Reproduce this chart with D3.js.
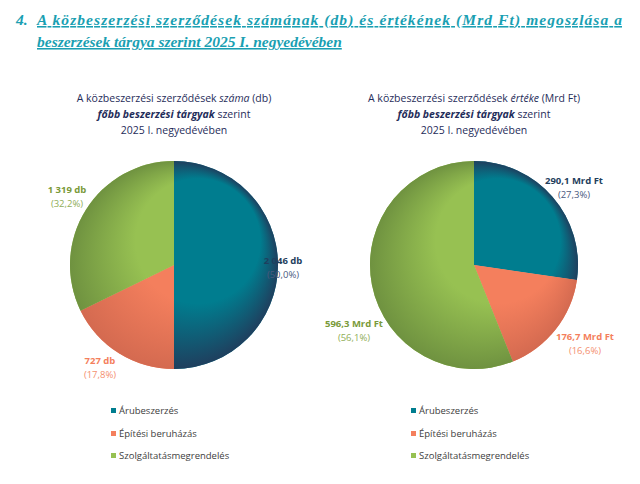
<!DOCTYPE html><html><head><meta charset="utf-8"><script src="https://cdn.jsdelivr.net/npm/d3@7"></script>
<style>body{margin:0;background:#fff}</style></head><body><svg id="c" width="640" height="484"></svg>
<script>
const categories=["Árubeszerzés","Építési beruházás","Szolgáltatásmegrendelés"];
const countValues=[2046,727,1319];
const countPct=["50,0%","17,8%","32,2%"];
const valueValues=[290.1,176.7,596.3];
const valuePct=["27,3%","16,6%","56,1%"];
const colors=["#007d8f","#f47f5d","#97c152"];
const darks=["#1f3f5e","#d46a50","#6f9240"];
const labelColors=["#1f3f5e","#f47f5d","#7a9a3a"];
const pctColors=["#4a5a80","#f4906f","#8fae58"];
const svg=d3.select("#c");
const defs=svg.append("defs");
colors.forEach((c,i)=>{[0,1].forEach(p=>{
 const g=defs.append("radialGradient").attr("id",`g${p}${i}`).attr("gradientUnits","userSpaceOnUse")
  .attr("cx",p?474:174).attr("cy",265).attr("r",104).attr("fx",(p?474:174)+60).attr("fy",265-60);
 g.append("stop").attr("offset","0%").attr("stop-color",c);
 g.append("stop").attr("offset","60%").attr("stop-color",c);
 g.append("stop").attr("offset","100%").attr("stop-color",darks[i]);
});});
// title
const tf="'Liberation Serif',serif";
const t=svg.append("g").attr("font-family",tf).attr("font-weight","bold").attr("font-style","italic").attr("font-size",15.5).attr("fill","#1a9fb2");
t.append("text").attr("x",16).attr("y",25).text("4.");
t.append("text").attr("x",37).attr("y",25).attr("textLength",585).attr("lengthAdjust","spacing").attr("text-decoration","underline").text("A közbeszerzési szerződések számának (db) és értékének (Mrd Ft) megoszlása a");
t.append("text").attr("x",37).attr("y",47).attr("text-decoration","underline").text("beszerzések tárgya szerint 2025 I. negyedévében");
function title(cx,it,unit){
 const g=svg.append("g").attr("font-family","'Open Sans',sans-serif").attr("font-size",10.5).attr("fill","#1f2d5a").attr("text-anchor","middle");
 const l1=g.append("text").attr("x",cx).attr("y",102);
 l1.append("tspan").text("A közbeszerzési szerződések ");
 l1.append("tspan").attr("font-style","italic").text(it);
 l1.append("tspan").text(" "+unit);
 const l2=g.append("text").attr("x",cx).attr("y",118);
 l2.append("tspan").attr("font-style","italic").attr("font-weight","bold").text("főbb beszerzési tárgyak");
 l2.append("tspan").text(" szerint");
 g.append("text").attr("x",cx).attr("y",134).text("2025 I. negyedévében");
}
title(174,"száma","(db)");title(474,"értéke","(Mrd Ft)");
function pie(p,cx,vals,labels,pcts,pos){
 const arcs=d3.pie().sort(null)(vals);
 const arc=d3.arc().innerRadius(0).outerRadius(104);
 const g=svg.append("g").attr("transform",`translate(${cx},265)`);
 g.selectAll("path").data(arcs).join("path").attr("d",arc).attr("fill",(d,i)=>colors[i]);
 g.selectAll("path.o").data(arcs).join("path").attr("class","o").attr("d",arc).attr("fill",(d,i)=>`url(#g${p}${i})`).attr("transform",`translate(${-cx},-265)`).attr("d",d=>d3.arc().innerRadius(0).outerRadius(104)(d)).attr("transform",null);
 const lg=svg.append("g").attr("font-family","'Open Sans',sans-serif").attr("font-size",9.5).attr("text-anchor","middle");
 arcs.forEach((d,i)=>{
  lg.append("text").attr("x",pos[i][0]).attr("y",pos[i][1]).attr("font-weight","bold").attr("fill",labelColors[i]).text(labels[i]);
  lg.append("text").attr("x",pos[i][0]).attr("y",pos[i][1]+14).attr("fill",pctColors[i]).text("("+pcts[i]+")");
 });
 const leg=svg.append("g").attr("font-family","'Open Sans',sans-serif").attr("font-size",9.5).attr("fill","#404040");
 categories.forEach((c,i)=>{
  const y=[414,437,459][i];
  leg.append("rect").attr("x",cx-63).attr("y",y-6).attr("width",5).attr("height",5).attr("fill",colors[i]);
  leg.append("text").attr("x",cx-55).attr("y",y).text(c);
 });
}
// fix gradient centering: gradients in userSpace of svg, pies are translated -> use objectBoundingBox-free approach
pie(0,174,countValues,countValues.map(v=>d3.format(",")(v).replace(",", " ")+" db"),countPct,[[283,264],[100,364],[67,193]]);
pie(1,474,valueValues,valueValues.map(v=>String(v).replace(".",",")+" Mrd Ft"),valuePct,[[574,184],[585,340],[354,327]]);
// shift gradients to local coordinates
defs.selectAll("radialGradient").attr("cx",0).attr("cy",0).attr("fx",60).attr("fy",-60);
</script></body></html>
